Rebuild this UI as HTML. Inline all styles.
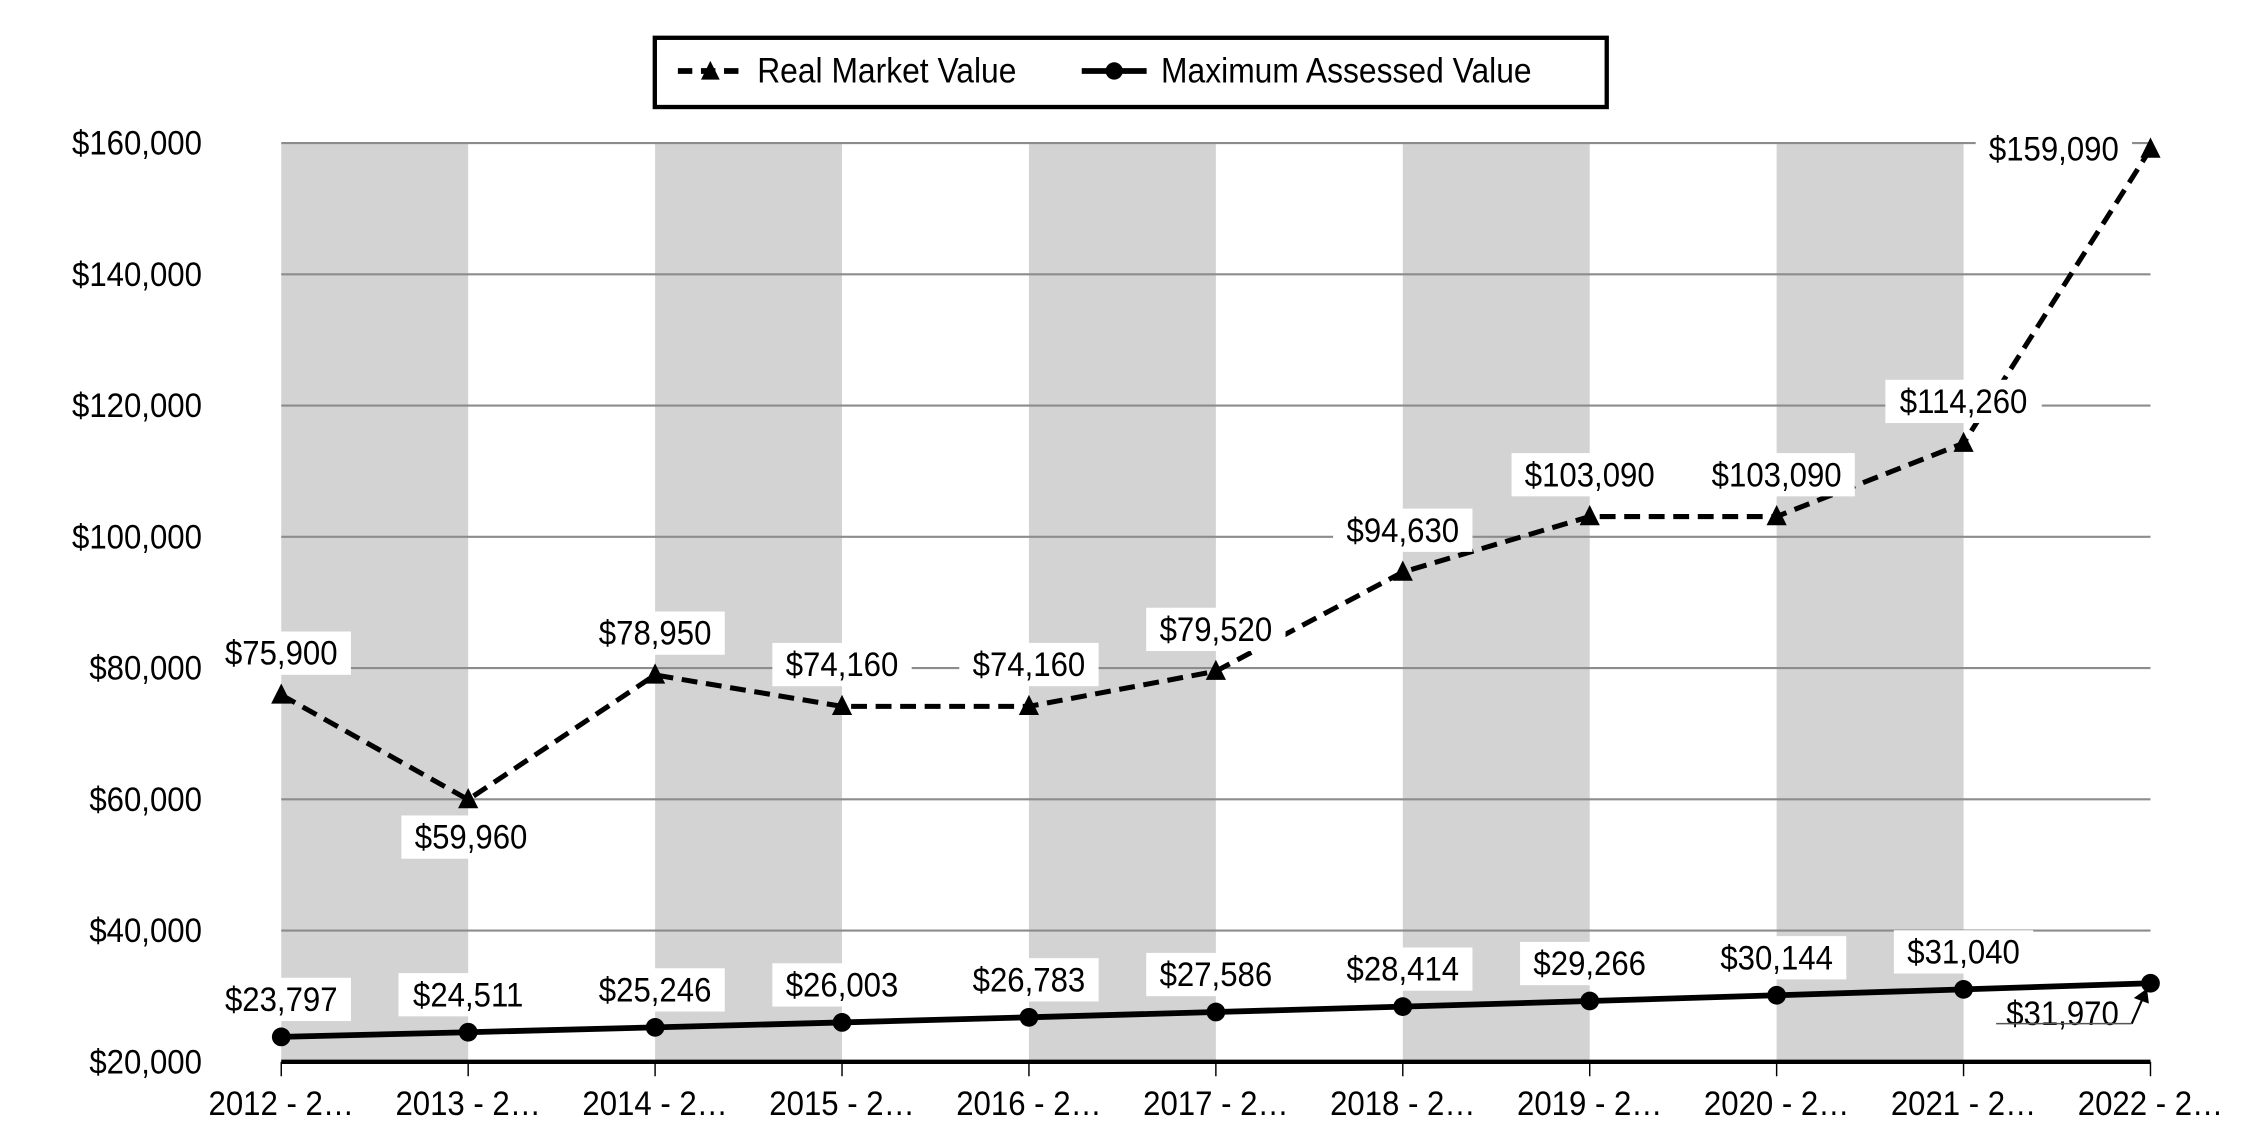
<!DOCTYPE html>
<html><head><meta charset="utf-8"><style>
html,body{margin:0;padding:0;background:#fff;}
svg{display:block;}
text{font-family:"Liberation Sans",Arial,sans-serif;fill:#000;}
</style></head><body>
<svg id="chart" width="2250" height="1140" viewBox="0 0 1560 790" xmlns="http://www.w3.org/2000/svg">
<g id="bands"></g><g id="grid"></g><g id="axes"></g><g id="series"></g><g id="labels"></g>
<g>
<rect x="454" y="26" width="660" height="48" fill="#fff" stroke="#000" stroke-width="3"/>
<g>
<line x1="470" y1="49" x2="515" y2="49" stroke="#000" stroke-width="4" stroke-dasharray="10,6"/>
<path d="M492.5,42 L499,55 L486,55 Z" fill="#000"/>
<text transform="translate(525,57) scale(0.9,1)" font-size="24.5">Real Market Value</text></g>
<g>
<line x1="750" y1="49" x2="795" y2="49" stroke="#000" stroke-width="4"/>
<circle cx="772.5" cy="49" r="6" fill="#000"/>
<text transform="translate(805,57) scale(0.9,1)" font-size="24.5">Maximum Assessed Value</text></g>
</g>
</svg>
<script>
const categories=["2012 - 2…","2013 - 2…","2014 - 2…","2015 - 2…","2016 - 2…","2017 - 2…","2018 - 2…","2019 - 2…","2020 - 2…","2021 - 2…","2022 - 2…"];
const realMarketValue=[75900,59960,78950,74160,74160,79520,94630,103090,103090,114260,159090];
const maxAssessedValue=[23797,24511,25246,26003,26783,27586,28414,29266,30144,31040,31970];
const yTicks=[20000,40000,60000,80000,100000,120000,140000,160000];
const NS="http://www.w3.org/2000/svg";
const L=195,R=1491,T=99,B=736,yMin=20000,yMax=160000;
const xs=i=>L+i*(R-L)/(categories.length-1);
const ys=v=>B-(v-yMin)/(yMax-yMin)*(B-T);
const fmt=v=>"$"+v.toLocaleString("en-US");
function mk(tag,attrs,parent){const e=document.createElementNS(NS,tag);for(const k in attrs)e.setAttribute(k,attrs[k]);document.getElementById(parent).appendChild(e);return e;}
function txt(x,y,anchor,s,parent){const t=mk("text",{transform:`translate(${x},${y}) scale(0.9,1)`,"text-anchor":anchor,"font-size":24},parent);t.textContent=s;return t;}
for(let i=0;i<categories.length-1;i+=2){
 const b=mk("rect",{x:xs(i),y:T,width:xs(i+1)-xs(i),height:B-T,fill:"#d3d3d3"},"bands");
 
 
}
yTicks.forEach(v=>{
 if(v>yMin){const g=mk("line",{x1:L,x2:R,y1:ys(v),y2:ys(v),stroke:"#8c8c8c","stroke-width":1.5},"grid");
 
 }
 const t=txt(140,ys(v)+8,"end",fmt(v),"axes");
 
 
});
const ax=mk("line",{x1:L,x2:R,y1:B,y2:B,stroke:"#000","stroke-width":3},"axes");


categories.forEach((c,i)=>{
 const tk=mk("line",{x1:xs(i),x2:xs(i),y1:B,y2:B+10,stroke:"#000","stroke-width":1},"axes");
 
 
 const t=txt(xs(i),773,"middle",c,"axes");
 
 
});
const rp=mk("polyline",{points:realMarketValue.map((v,i)=>xs(i)+","+ys(v)).join(" "),fill:"none",stroke:"#000","stroke-width":3.5,"stroke-dasharray":"11,6"},"series");


const mp=mk("polyline",{points:maxAssessedValue.map((v,i)=>xs(i)+","+ys(v)).join(" "),fill:"none",stroke:"#000","stroke-width":4},"series");


realMarketValue.forEach((v,i)=>{const x=xs(i),y=ys(v);
 const p=mk("path",{d:`M${x},${y-8} L${x+7},${y+6} L${x-7},${y+6} Z`,fill:"#000"},"series");
 
 
});
maxAssessedValue.forEach((v,i)=>{
 const c=mk("circle",{cx:xs(i),cy:ys(v),r:6.5,fill:"#000"},"series");
 
 
});
function label(s,cx,cy){
 const w=s.length*11.8+14;
 const r=mk("rect",{x:cx-w/2,y:cy-15,width:w,height:30,fill:"#fff"},"labels");
 
 
 const t=txt(cx,cy+8,"middle",s,"labels");
 
 
}
realMarketValue.forEach((v,i)=>{const x=xs(i),y=ys(v);
 if(i===1)label(fmt(v),x+2,y+26);
 else if(i===realMarketValue.length-1)label(fmt(v),x-67,y);
 else label(fmt(v),x,y-29);
});
maxAssessedValue.forEach((v,i)=>{const x=xs(i),y=ys(v);
 if(i===maxAssessedValue.length-1){label(fmt(v),x-61,y+21);
  const a=mk("path",{d:`M${x-13},${y+28} L${x-3},${y+5} M${x-3},${y+5} L${x-10},${y+10} L${x-2},${y+13} Z`,stroke:"#000","stroke-width":1.5,fill:"#000"},"labels");
  
  
  const u=mk("line",{x1:x-107,x2:x-13,y1:y+28,y2:y+28,stroke:"#555","stroke-width":1},"labels");
  
  
 } else label(fmt(v),x,y-26);
});
</script>
</body></html>
